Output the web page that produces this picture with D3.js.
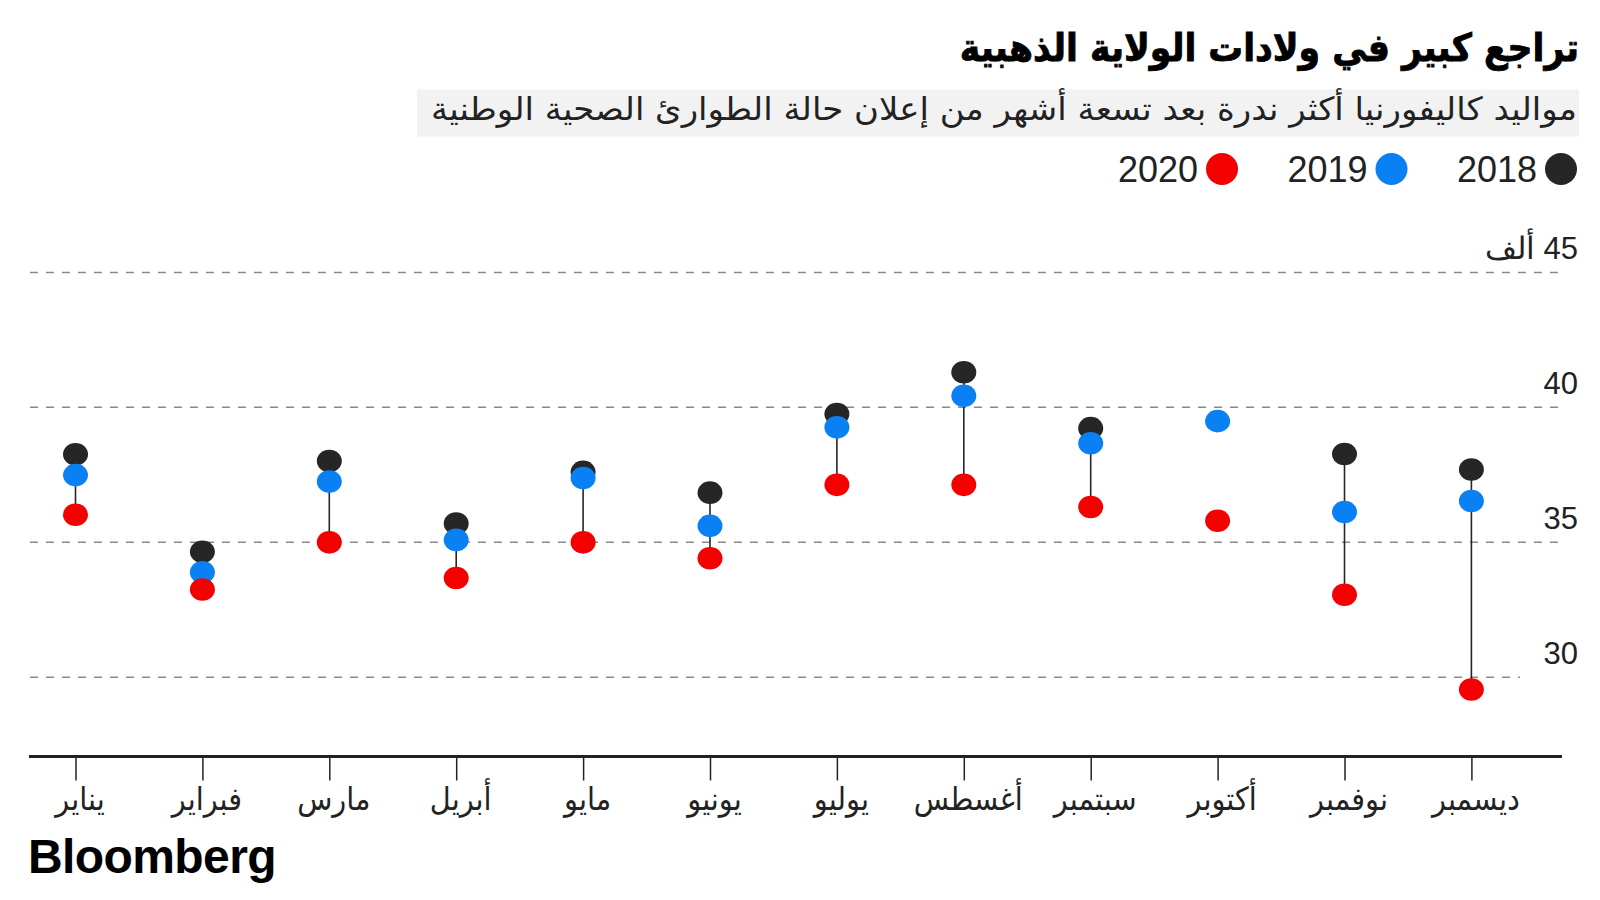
<!DOCTYPE html>
<html><head><meta charset="utf-8">
<script src="https://cdn.jsdelivr.net/npm/d3@7"></script>
<style>
html,body{margin:0;padding:0;background:#fff;}
svg{display:block;}
.ar{font-family:"DejaVu Sans Condensed","DejaVu Sans",sans-serif;}
.num{font-family:"Liberation Sans",Arial,sans-serif;}
</style></head><body>
<svg id="chart" width="1600" height="900"></svg>
<script>
// ---------- data ----------
const months = ["يناير","فبراير","مارس","أبريل","مايو","يونيو","يوليو","أغسطس","سبتمبر","أكتوبر","نوفمبر","ديسمبر"];
const seriesNames = ["2018","2019","2020"];
const births2018 = [38.26, 34.65, 38.01, 35.70, 37.61, 36.84, 39.75, 41.30, 39.23, null, 38.27, 37.70];
const births2019 = [37.49, 33.89, 37.25, 35.09, 37.38, 35.61, 39.26, 40.43, 38.67, 39.49, 36.12, 36.53];
const births2020 = [36.02, 33.25, 35.00, 33.68, 35.00, 34.41, 37.13, 37.13, 36.31, 35.80, 33.06, 29.55];
const yTicks = [30, 35, 40, 45];
const yTickLabels = ["30", "35", "40", "45 ألف"];
const titleText = "تراجع كبير في ولادات الولاية الذهبية";
const subtitleText = "مواليد كاليفورنيا أكثر ندرة بعد تسعة أشهر من إعلان حالة الطوارئ الصحية الوطنية";
const sourceText = "Bloomberg";

// ---------- setup ----------
const colors = {"2018": "#262626", "2019": "#0a80f5", "2020": "#f50000"};
const seriesValues = {"2018": births2018, "2019": births2019, "2020": births2020};
const svg = d3.select("#chart");

const x = d3.scalePoint().domain(months).range([75.5, 1471.4]);
const y = d3.scaleLinear().domain([30, 45]).range([677.3, 272.4]);

// ---------- title / subtitle ----------
svg.append("text").attr("class", "ar")
  .attr("x", 1579).attr("y", 61)
  .attr("text-anchor", "end")
  .attr("font-size", 38.5).attr("font-weight", "bold").attr("fill", "#000")
  .attr("stroke", "#000").attr("stroke-width", 0.8)
  .text(titleText);

svg.append("rect").attr("x", 417).attr("y", 89.5).attr("width", 1162).attr("height", 47).attr("fill", "#f2f2f2");
svg.append("text").attr("class", "ar")
  .attr("x", 1577).attr("y", 120)
  .attr("text-anchor", "end")
  .attr("font-size", 32).attr("fill", "#222")
  .attr("textLength", 1146).attr("lengthAdjust", "spacingAndGlyphs")
  .text(subtitleText);

// ---------- legend ----------
const legend = svg.append("g");
seriesNames.forEach((s, i) => {
  const cx = 1561 - i * 169.5;
  legend.append("circle").attr("cx", cx).attr("cy", 169).attr("r", 16).attr("fill", colors[s]);
  legend.append("text").attr("class", "num")
    .attr("x", cx - 24).attr("y", 182)
    .attr("text-anchor", "end").attr("font-size", 36).attr("fill", "#222")
    .text(s);
});

// ---------- gridlines & y labels ----------
const grid = svg.append("g");
yTicks.forEach((t, i) => {
  grid.append("line")
    .attr("x1", 30).attr("x2", t === 30 ? 1520 : 1563)
    .attr("y1", y(t)).attr("y2", y(t))
    .attr("stroke", "#8a8a8a").attr("stroke-width", 1.5).attr("stroke-dasharray", "8 8");
  grid.append("text").attr("class", "num")
    .attr("x", 1578).attr("y", y(t) - 13)
    .attr("direction", "rtl")
    .style("direction", "rtl").style("unicode-bidi", "embed")
    .attr("text-anchor", "start")
    .attr("font-size", 31).attr("fill", "#222")
    .text(yTickLabels[i]);
});

// ---------- x axis ----------
svg.append("line").attr("x1", 29).attr("x2", 1562).attr("y1", 756.5).attr("y2", 756.5)
  .attr("stroke", "#222").attr("stroke-width", 3);
const xAxis = svg.append("g").attr("transform", "translate(0,756.5)")
  .call(d3.axisBottom(x).tickSize(24).tickSizeOuter(0));
xAxis.select(".domain").remove();
xAxis.selectAll(".tick line").attr("stroke", "#222").attr("stroke-width", 1.5);
xAxis.selectAll(".tick text")
  .attr("class", "ar").attr("x", 4).attr("y", 53).attr("dy", 0)
  .attr("font-size", 32).attr("fill", "#222")
  .style("font-family", "\"DejaVu Sans Condensed\",\"DejaVu Sans\",sans-serif");

// ---------- stems ----------
const stems = svg.append("g");
months.forEach((m, i) => {
  const a = births2018[i], b = births2020[i];
  if (a == null || b == null) return;
  stems.append("line")
    .attr("x1", x(m)).attr("x2", x(m))
    .attr("y1", y(a)).attr("y2", y(b))
    .attr("stroke", "#262626").attr("stroke-width", 1.6);
});

// ---------- dots ----------
seriesNames.forEach(s => {
  svg.append("g").selectAll("ellipse")
    .data(months.map((m, i) => ({m, v: seriesValues[s][i]})).filter(d => d.v != null))
    .join("ellipse")
    .attr("cx", d => x(d.m)).attr("cy", d => y(d.v))
    .attr("rx", 12.5).attr("ry", 11.3)
    .attr("fill", colors[s]);
});

// ---------- source ----------
svg.append("text")
  .attr("x", 28).attr("y", 873)
  .attr("font-family", "\"Liberation Sans\",Arial,sans-serif")
  .attr("font-weight", "bold").attr("font-size", 48).attr("letter-spacing", -0.6)
  .attr("fill", "#000")
  .text(sourceText);
</script>
</body></html>
